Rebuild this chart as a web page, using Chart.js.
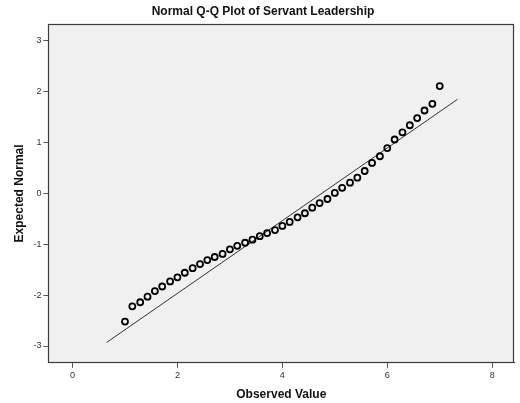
<!DOCTYPE html>
<html>
<head>
<meta charset="utf-8">
<script src="https://cdn.jsdelivr.net/npm/chart.js@4/dist/chart.umd.min.js"></script>
<style>
  html, body { margin: 0; padding: 0; background: #fff; }
  #wrap { width: 520px; height: 403px; }
</style>
</head>
<body>
<div id="wrap"><canvas id="chart" width="520" height="403"></canvas></div>
<script>
// observed scale scores (x) and their expected normal values (y)
const observed = [1.00, 1.14, 1.29, 1.43, 1.57, 1.71, 1.86, 2.00, 2.14, 2.29, 2.43,
    2.57, 2.71, 2.86, 3.00, 3.14, 3.29, 3.43, 3.57, 3.71, 3.86, 4.00, 4.14, 4.29,
    4.43, 4.57, 4.71, 4.86, 5.00, 5.14, 5.29, 5.43, 5.57, 5.71, 5.86, 6.00, 6.14,
    6.29, 6.43, 6.57, 6.71, 6.86, 7.00];
const expected = [-2.52, -2.22, -2.14, -2.03, -1.92, -1.83, -1.73, -1.65, -1.56, -1.47, -1.39,
    -1.31, -1.25, -1.19, -1.10, -1.03, -0.97, -0.91, -0.84, -0.78, -0.72, -0.64, -0.56, -0.47,
    -0.39, -0.28, -0.19, -0.11, 0.01, 0.11, 0.21, 0.31, 0.44, 0.60, 0.73, 0.89, 1.06,
    1.20, 1.34, 1.48, 1.63, 1.76, 2.11];

// reference line end points
const lineX = [0.65, 7.34];
const lineY = [-2.93, 1.85];

const xTicks = [0, 2, 4, 6, 8];
const yTicks = [-3, -2, -1, 0, 1, 2, 3];

const plotFrame = {
    id: 'plotFrame',
    beforeDraw(chart) {
        const { ctx, chartArea: a } = chart;
        ctx.save();
        ctx.fillStyle = '#f0f0f0';
        ctx.fillRect(a.left, a.top, a.right - a.left, a.bottom - a.top);
        ctx.restore();
    },
    afterDraw(chart) {
        const { ctx, chartArea: a } = chart;
        ctx.save();
        ctx.strokeStyle = '#3c3c3c';
        ctx.lineWidth = 1.2;
        ctx.strokeRect(Math.round(a.left) + 0.5, Math.round(a.top) + 0.5,
            Math.round(a.right - a.left) - 1, Math.round(a.bottom - a.top) - 1);
        ctx.restore();
    }
};

const tickFont = { family: 'Arial, "Liberation Sans", sans-serif', size: 9 };
const titleFont = { family: 'Arial, "Liberation Sans", sans-serif', size: 12, weight: 'bold' };

new Chart(document.getElementById('chart'), {
    type: 'scatter',
    data: {
        datasets: [
            {
                data: observed.map((x, i) => ({ x, y: expected[i] })),
                pointStyle: 'circle',
                pointRadius: 3,
                pointBorderWidth: 1.8,
                pointBorderColor: '#000',
                pointBackgroundColor: 'rgba(0,0,0,0)',
                showLine: false
            },
            {
                type: 'line',
                data: lineX.map((x, i) => ({ x, y: lineY[i] })),
                borderColor: '#333',
                borderWidth: 1,
                pointRadius: 0,
                fill: false
            }
        ]
    },
    options: {
        responsive: false,
        animation: false,
        layout: { padding: { left: 6, right: 0, top: 0, bottom: 0 } },
        plugins: {
            legend: { display: false },
            tooltip: { enabled: false },
            title: {
                display: true,
                text: 'Normal Q-Q Plot of Servant Leadership',
                color: '#111',
                font: titleFont,
                padding: { top: 4, bottom: 5.6 }
            }
        },
        scales: {
            x: {
                type: 'linear',
                min: -0.46,
                max: 8.42,
                afterBuildTicks: axis => { axis.ticks = xTicks.map(v => ({ value: v })); },
                grid: { drawOnChartArea: false, drawTicks: true, tickLength: 5, tickColor: '#555' },
                border: { color: '#3c3c3c' },
                ticks: { color: '#333', font: tickFont, padding: 2, maxRotation: 0 },
                title: { display: true, text: 'Observed Value', color: '#111', font: titleFont, padding: { top: 5, bottom: 1 } }
            },
            y: {
                type: 'linear',
                min: -3.33,
                max: 3.33,
                afterBuildTicks: axis => { axis.ticks = yTicks.map(v => ({ value: v })); },
                grid: { drawOnChartArea: false, drawTicks: true, tickLength: 5, tickColor: '#555' },
                border: { color: '#3c3c3c' },
                ticks: { color: '#333', font: tickFont, padding: 2 },
                title: { display: true, text: 'Expected Normal', color: '#111', font: titleFont, padding: { top: 6, bottom: 5 } }
            }
        }
    },
    plugins: [plotFrame]
});
</script>
</body>
</html>
